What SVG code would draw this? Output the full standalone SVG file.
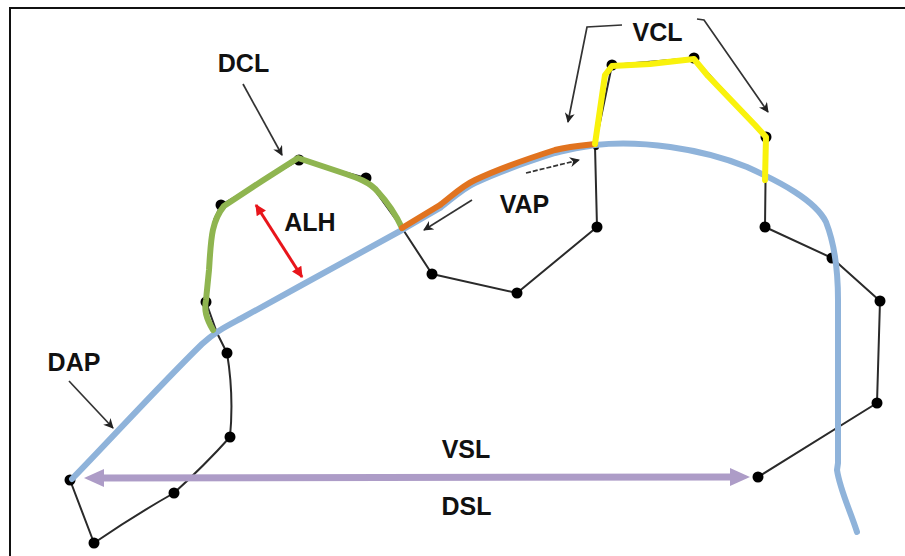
<svg xmlns="http://www.w3.org/2000/svg" width="905" height="556" viewBox="0 0 905 556">
<style>
.lbl{font-family:"Liberation Sans",Arial,sans-serif;font-weight:bold;font-size:25px;fill:#111;text-anchor:middle}
.sk{fill:none;stroke:#2a2a2a;stroke-width:2;stroke-linejoin:round}
.dot{fill:#000}
.cv{fill:none;stroke-width:6;stroke-linecap:round;stroke-linejoin:round}
.ar{fill:none;stroke:#333;stroke-width:1.7;marker-end:url(#ah)}
</style>
<defs>
<marker id="ah" viewBox="0 0 10 10" refX="9" refY="5" markerWidth="11" markerHeight="10" markerUnits="userSpaceOnUse" orient="auto">
<path d="M0,0 L10,5 L0,10 L3,5 Z" fill="#222"/>
</marker>
<marker id="rh" viewBox="0 0 10 10" refX="9" refY="5" markerWidth="13" markerHeight="11" markerUnits="userSpaceOnUse" orient="auto-start-reverse">
<path d="M0,0 L10,5 L0,10 Z" fill="#e8151b"/>
</marker>
</defs>
<rect x="10" y="8" width="910" height="570" fill="#fff" stroke="#111" stroke-width="2"/>
<g id="skeleton">
<path class="sk" d="M70,480 L94,543 Q135,515 174,493 Q205,465 230,437 Q234,395 227,353 L217,333 L206,302 L214,220 L221,205 L299,160 L366,178 L402,228 L432,274 L517,293 L597,227 L595,146 L612,65 L694,58 L766,137 L765,227 L832,258 L880,301 L877,403 L758,477"/>
<g class="dot">
<circle cx="70" cy="480" r="5.5"/><circle cx="94" cy="543" r="5.5"/><circle cx="174" cy="493" r="5.5"/><circle cx="230" cy="437" r="5.5"/><circle cx="227" cy="353" r="5.5"/><circle cx="206" cy="302" r="5.5"/><circle cx="221" cy="205" r="5.5"/><circle cx="299" cy="160" r="5.5"/><circle cx="366" cy="178" r="5.5"/><circle cx="432" cy="274" r="5.5"/><circle cx="517" cy="293" r="5.5"/><circle cx="597" cy="227" r="5.5"/><circle cx="596" cy="147" r="3"/><circle cx="612" cy="65" r="5.5"/><circle cx="694" cy="58" r="5.5"/><circle cx="766" cy="137" r="5.5"/><circle cx="765" cy="227" r="5.5"/><circle cx="832" cy="258" r="5.5"/><circle cx="880" cy="301" r="5.5"/><circle cx="877" cy="403" r="5.5"/><circle cx="758" cy="477" r="5.5"/>
</g>
</g>
<g id="curves">
<path class="cv" stroke="#8fb3da" d="M72,479 C110,440 160,385 202,344 C215,332 225,327 240,319 L300,286 L402,230 L440,208 C452,199 462,189 475,183 C500,171 530,161 555,153 C570,149 585,147 595,145 C640,140 700,148 747,167 C780,182 815,200 826,222 C835,245 838,270 838,300 L838,463 L837,470 C840,490 850,510 857,532"/>
<path class="cv" stroke="#8fb550" d="M213,330 C206,318 204,310 206,300 L209,270 C211,240 211,222 224,206 L262,181 L298,158 L340,172 C358,178 370,182 378,192 C390,205 396,215 402,228"/>
<path class="cv" stroke="#e1731f" d="M402,228 L440,205 C452,196 462,186 475,180 C500,168 530,158 555,150 C570,146 585,145 595,144"/>
<path class="cv" stroke="#f9f20c" d="M595,144 L605,75 L612,66 L650,64 L694,59 L708,76 L755,125 L766,137 L765,180"/>
</g>
<g id="connectors">
<line x1="256" y1="205" x2="302" y2="277" stroke="#e8151b" stroke-width="3" marker-start="url(#rh)" marker-end="url(#rh)"/>
<line x1="100" y1="478" x2="733" y2="477" stroke="#ad9cc7" stroke-width="7"/>
<polygon points="84,478 104,469 104,487" fill="#ad9cc7"/>
<polygon points="750,477 730,468 730,486" fill="#ad9cc7"/>
<line class="ar" x1="243" y1="84" x2="282" y2="155"/>
<line class="ar" x1="69" y1="381" x2="113" y2="428"/>
<polyline class="ar" points="622,25 587,27 568,122"/>
<polyline class="ar" points="697,19 704,20 768,112"/>
<line class="ar" x1="526" y1="173" x2="579" y2="160" stroke-dasharray="5 2"/>
<line class="ar" x1="472" y1="200" x2="424" y2="230"/>
</g>
<g id="labels">
<text id="DCL" class="lbl" x="243.5" y="72">DCL</text>
<text id="VCL" class="lbl" x="657.5" y="41">VCL</text>
<text id="ALH" class="lbl" x="310" y="231">ALH</text>
<text id="VAP" class="lbl" x="524.5" y="213">VAP</text>
<text id="DAP" class="lbl" x="74" y="371">DAP</text>
<text id="VSL" class="lbl" x="466" y="458">VSL</text>
<text id="DSL" class="lbl" x="466.5" y="515">DSL</text>
</g>
</svg>
